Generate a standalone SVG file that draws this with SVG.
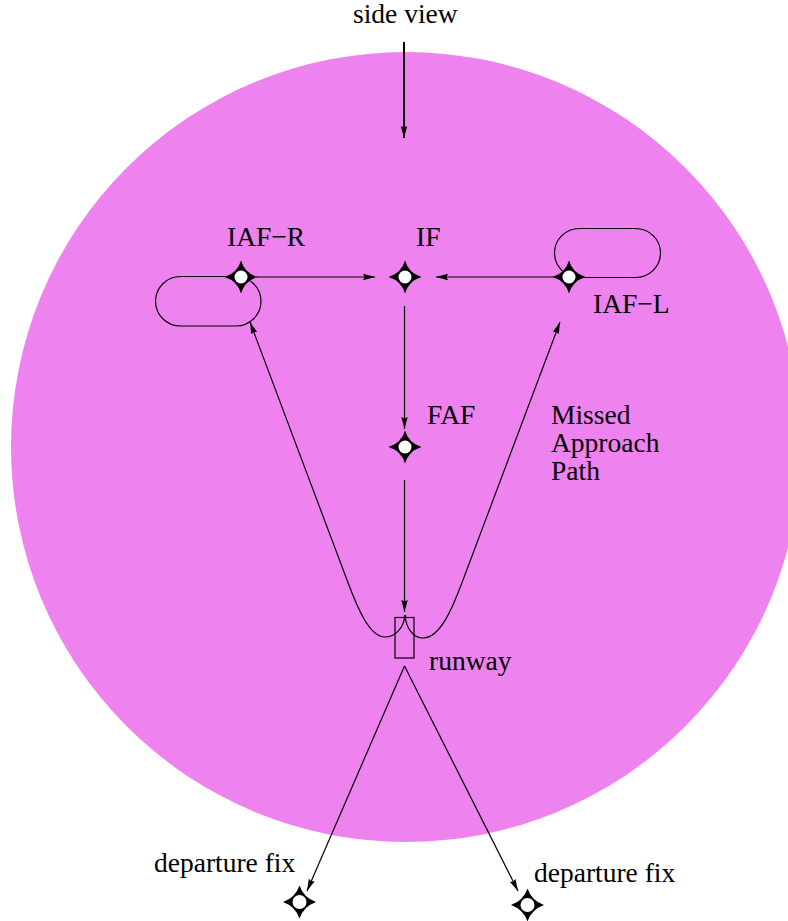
<svg xmlns="http://www.w3.org/2000/svg" width="788" height="921" viewBox="0 0 788 921">
<style>
text{font-family:"Liberation Serif","Times New Roman",serif;font-size:27.5px;fill:#000}
.c{fill:none;stroke:#000;stroke-width:1.2}
.t{stroke-width:2}
.s{fill:#000}
.h{fill:#fff}
</style>
<defs>
<marker id="a" markerUnits="userSpaceOnUse" markerWidth="13" markerHeight="8" refX="12" refY="4" orient="auto"><path d="M0 .8L12 4L0 7.200L1.500 4Z" fill="#000"/></marker>
<marker id="b" markerUnits="userSpaceOnUse" markerWidth="13" markerHeight="8" refX="12" refY="4" orient="auto"><path d="M0 .8L12 4L0 7.200L1.500 4Z" fill="#000"/></marker>
<g id="star"><path class="s" d="M0-16.500Q3.500-4 16.500 0Q3.500 4 0 16.500Q-3.500 4-16.500 0Q-3.500-4 0-16.500Z"/><circle class="h" r="6.500"/></g>
<g id="star2"><path class="s" d="M0-16.500Q4-4.500 16.500 0Q4 4.500 0 16.500Q-4 4.500-16.500 0Q-4-4.500 0-16.500Z"/><circle class="h" r="7"/></g>
</defs>
<rect width="788" height="921" fill="#fff"/>
<circle id="area" cx="406" cy="447" r="395" fill="#ee82ee"/>
<g id="connectors">
<path class="c t" d="M404 42V138" marker-end="url(#a)"/>
<path class="c" d="M256 277H375" marker-end="url(#a)"/>
<path class="c" d="M554 277H436" marker-end="url(#a)"/>
<path class="c" d="M404.500 306V429" marker-end="url(#a)"/>
<path class="c" d="M404.500 480V612" marker-end="url(#a)"/>
<path class="c" d="M405 615C404 628 395 637 385 637C368 637 355 601 347 580L250 322" marker-end="url(#b)"/>
<path class="c" d="M405 615C406 628 413 638 423 638C442 638 455 601 463 580L560 322" marker-end="url(#b)"/>
<path class="c" d="M404.500 666L307 891" marker-end="url(#b)"/>
<path class="c" d="M404.500 666L518 891" marker-end="url(#b)"/>
</g>
<g id="runway"><rect class="c" x="395" y="617.500" width="19" height="40.500"/><text x="429" y="670">runway</text></g>
<g id="iaf-r"><rect class="c" x="155.500" y="276.500" width="105.500" height="49.500" rx="25" ry="25"/><use href="#star" x="241" y="277"/><text x="227" y="246">IAF−R</text></g>
<g id="if"><use href="#star" x="405" y="277"/><text x="416" y="246">IF</text></g>
<g id="iaf-l"><rect class="c" x="554.500" y="228.500" width="106" height="49" rx="25" ry="25"/><use href="#star" x="569" y="277"/><text x="593" y="313">IAF−L</text></g>
<g id="faf"><use href="#star" x="405" y="447"/><text x="427" y="424">FAF</text></g>
<g id="dep1"><use href="#star2" x="299.500" y="902"/><text x="154" y="872">departure fix</text></g>
<g id="dep2"><use href="#star2" x="527.500" y="905"/><text x="534" y="882">departure fix</text></g>
<text x="353" y="23">side view</text>
<text x="551" y="424">Missed</text>
<text x="551" y="452">Approach</text>
<text x="551" y="480">Path</text>
</svg>
